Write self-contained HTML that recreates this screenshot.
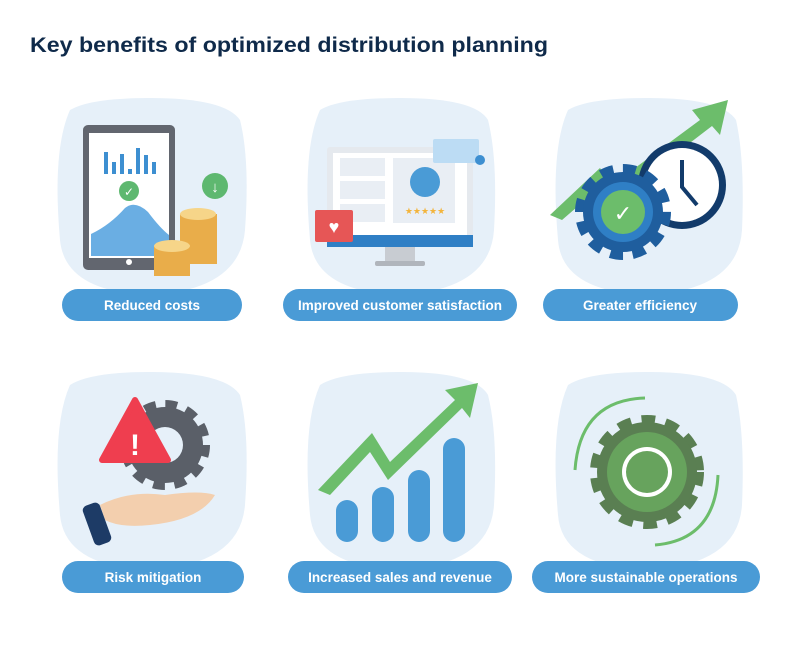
<!DOCTYPE html>
<html><head><meta charset="utf-8"><style>
body{margin:0;background:#fff;}
svg{display:block;font-family:"Liberation Sans",sans-serif;}
</style></head><body>
<svg width="800" height="650" viewBox="0 0 800 650">
<text x="30" y="52" font-size="21" font-weight="bold" fill="#0f2a4a" textLength="518" lengthAdjust="spacingAndGlyphs">Key benefits of optimized distribution planning</text>
<g fill="#e6f0f9">
<path d="M70 110 Q90 98 150 98 Q225 98 240 120 Q250 160 245 230 Q240 290 150 295 Q65 292 60 240 Q52 150 70 110Z"/>
<path d="M320 110 Q340 98 400 98 Q475 98 488 120 Q498 160 494 230 Q490 290 400 295 Q315 292 310 240 Q302 150 320 110Z"/>
<path d="M568 110 Q588 98 648 98 Q722 98 736 120 Q745 160 742 230 Q738 290 648 295 Q562 292 558 240 Q550 150 568 110Z"/>
<path d="M70 385 Q90 372 150 372 Q225 372 240 395 Q250 435 245 505 Q240 565 150 570 Q65 567 60 515 Q52 425 70 385Z"/>
<path d="M320 385 Q340 372 400 372 Q475 372 488 395 Q498 435 494 505 Q490 565 400 570 Q315 567 310 515 Q302 425 320 385Z"/>
<path d="M568 385 Q588 372 648 372 Q722 372 736 395 Q745 435 742 505 Q738 565 648 570 Q562 567 558 515 Q550 425 568 385Z"/>
</g>
<!-- card1 tablet -->
<rect x="83" y="125" width="92" height="145" rx="5" fill="#62666f"/>
<rect x="89" y="133" width="80" height="125" fill="#fff"/>
<g fill="#3d8fd1"><rect x="104" y="152" width="4" height="22"/><rect x="112" y="162" width="4" height="12"/><rect x="120" y="154" width="4" height="20"/><rect x="128" y="169" width="4" height="5"/><rect x="136" y="148" width="4" height="26"/><rect x="144" y="155" width="4" height="19"/><rect x="152" y="162" width="4" height="12"/></g>
<path d="M91 234 Q110 225 125 208 Q135 200 148 212 Q160 228 169 235 L169 256 L91 256Z" fill="#6aaee3"/>
<circle cx="129" cy="191" r="10" fill="#5eb870"/><text x="129" y="196" font-size="12" fill="#fff" text-anchor="middle">✓</text>
<circle cx="215" cy="186" r="13" fill="#5eb870"/><text x="215" y="192" font-size="15" fill="#fff" text-anchor="middle">↓</text>
<circle cx="129" cy="262" r="3" fill="#fff"/>
<rect x="180" y="214" width="37" height="50" fill="#e9ad4a"/><ellipse cx="198" cy="214" rx="18" ry="6" fill="#f6d589"/>
<rect x="154" y="246" width="36" height="30" fill="#e9ad4a"/><ellipse cx="172" cy="246" rx="18" ry="6" fill="#f6d589"/>
<!-- card2 monitor -->
<rect x="327" y="147" width="146" height="100" rx="3" fill="#e5e9ee"/>
<rect x="333" y="153" width="134" height="82" fill="#fff"/>
<rect x="327" y="235" width="146" height="12" fill="#2f7fc5"/>
<rect x="385" y="247" width="30" height="14" fill="#c8ccd2"/><rect x="375" y="261" width="50" height="5" rx="2" fill="#b0b5bc"/>
<rect x="340" y="158" width="45" height="18" fill="#e9eef4"/><rect x="340" y="181" width="45" height="18" fill="#e9eef4"/><rect x="340" y="204" width="45" height="18" fill="#e9eef4"/>
<rect x="393" y="158" width="62" height="65" fill="#e9eef4"/>
<circle cx="425" cy="182" r="15" fill="#4a9bd6"/>
<text x="425" y="214" font-size="9" fill="#f3b43b" text-anchor="middle">★★★★★</text>
<rect x="315" y="210" width="38" height="32" rx="2" fill="#e65656"/><text x="334" y="233" font-size="18" fill="#fff" text-anchor="middle">♥</text>
<rect x="433" y="139" width="46" height="24" rx="2" fill="#bcdcf4"/><circle cx="480" cy="160" r="5" fill="#3d8fd1"/>
<!-- card3 -->
<path d="M550 215 L600 168 L612 185 L700 120 L692 110 L728 100 L720 135 L712 126 L618 198 L606 182 L562 220Z" fill="#6cbd6b"/>
<circle cx="682" cy="185" r="44" fill="#123b6b"/><circle cx="682" cy="185" r="37" fill="#fff"/>
<path d="M682 160 L682 187 L697 205" stroke="#123b6b" stroke-width="4" fill="none"/>
<circle cx="623" cy="212" r="40" fill="none" stroke="#1f5e9e" stroke-width="16" stroke-dasharray="12 8.9"/>
<circle cx="623" cy="212" r="40" fill="#1f5e9e"/><circle cx="623" cy="212" r="30" fill="#2f7fc5"/><circle cx="623" cy="212" r="22" fill="#6cbd6b"/>
<text x="623" y="221" font-size="22" fill="#fff" text-anchor="middle">✓</text>
<!-- card4 -->
<circle cx="165" cy="445" r="38" fill="none" stroke="#5a5f68" stroke-width="14" stroke-dasharray="11 8.9"/>
<circle cx="165" cy="445" r="38" fill="#5a5f68"/><circle cx="165" cy="445" r="18" fill="#e6f0f9"/>
<path d="M135 400 L168 460 L102 460Z" fill="#ef3e4f" stroke="#ef3e4f" stroke-width="6" stroke-linejoin="round"/>
<text x="135" y="455" font-size="30" font-weight="bold" fill="#fff" text-anchor="middle">!</text>
<path d="M100 505 Q130 490 165 495 Q200 490 215 495 Q200 520 150 525 Q120 528 105 520Z" fill="#f3cfae"/>
<rect x="88" y="503" width="18" height="42" rx="5" fill="#1d3b66" transform="rotate(-20 97 524)"/>
<!-- card5 -->
<g fill="#4a9bd6"><rect x="336" y="500" width="22" height="42" rx="11"/><rect x="372" y="487" width="22" height="55" rx="11"/><rect x="408" y="470" width="22" height="72" rx="11"/><rect x="443" y="438" width="22" height="104" rx="11"/></g>
<path d="M318 490 L372 433 L390 462 L455 400 L445 390 L478 383 L470 418 L462 408 L388 480 L370 452 L330 495Z" fill="#6cbd6b"/>
<!-- card6 -->
<circle cx="647" cy="472" r="50" fill="none" stroke="#5a7f52" stroke-width="14" stroke-dasharray="13 10"/>
<circle cx="647" cy="472" r="50" fill="#5a7f52"/><circle cx="647" cy="472" r="40" fill="#67a35d"/><circle cx="647" cy="472" r="25" fill="#fff"/><circle cx="647" cy="472" r="21" fill="#67a35d"/>
<path d="M575 470 Q580 400 645 398" stroke="#6cbd6b" stroke-width="3" fill="none"/>
<path d="M718 475 Q715 540 655 545" stroke="#6cbd6b" stroke-width="3" fill="none"/>
<!-- pills -->
<g fill="#4a9bd6">
<rect x="62" y="289" width="180" height="32" rx="16"/>
<rect x="283" y="289" width="234" height="32" rx="16"/>
<rect x="543" y="289" width="195" height="32" rx="16"/>
<rect x="62" y="561" width="182" height="32" rx="16"/>
<rect x="288" y="561" width="224" height="32" rx="16"/>
<rect x="532" y="561" width="228" height="32" rx="16"/>
</g>
<g fill="#fff" font-size="13.5" font-weight="bold" text-anchor="middle">
<text x="152" y="310">Reduced costs</text>
<text x="400" y="310">Improved customer satisfaction</text>
<text x="640" y="310">Greater efficiency</text>
<text x="153" y="582">Risk mitigation</text>
<text x="400" y="582">Increased sales and revenue</text>
<text x="646" y="582">More sustainable operations</text>
</g>
</svg>
</body></html>
